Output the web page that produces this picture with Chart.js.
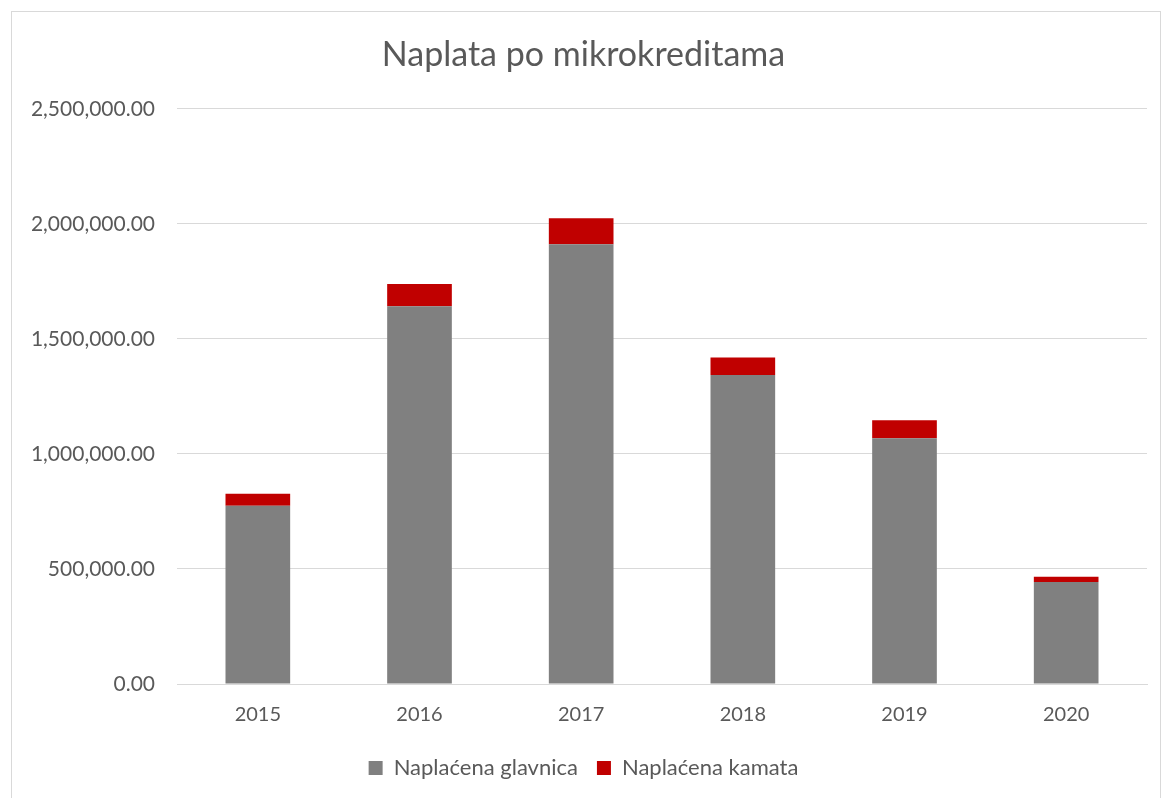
<!DOCTYPE html>
<html>
<head>
<meta charset="utf-8">
<script src="https://cdn.jsdelivr.net/npm/chart.js@4"></script>
<style>
  body { margin: 0; background: #fff; }
  #frame { position: absolute; left: 11px; top: 11px; width: 1148px; height: 800px; border: 1px solid #d9d9d9; }
  #wrap { position: absolute; left: 0; top: 0; width: 1163px; height: 798px; }
</style>
</head>
<body>
<div id="frame"></div>
<div id="wrap"><canvas id="chart" width="1163" height="798"></canvas></div>
<script>
// Naplata po mikrokreditima
const years = ['2015', '2016', '2017', '2018', '2019', '2020'];
const glavnica = [775000, 1642000, 1911000, 1343000, 1068000, 443000];
const kamata = [52000, 97000, 113000, 76000, 78000, 23000];

const textColor = '#595959';
const fontFamily = 'Lato, "Open Sans", sans-serif';

const ctx = document.getElementById('chart').getContext('2d');
const chart = new Chart(ctx, {
    type: 'bar',
    data: {
        labels: years,
        datasets: [{
            label: 'Naplaćena glavnica',
            data: glavnica,
            backgroundColor: '#808080',
            barPercentage: 0.4,
            categoryPercentage: 1
        }, {
            label: 'Naplaćena kamata',
            data: kamata,
            backgroundColor: '#c00000',
            barPercentage: 0.4,
            categoryPercentage: 1
        }]
    },
    options: {
        responsive: false,
        animation: false,
        layout: { padding: { left: 20, right: 16, top: 35, bottom: 9 } },
        plugins: {
            title: {
                display: true,
                text: 'Naplata po mikrokreditama',
                color: textColor,
                font: { family: fontFamily, size: 34, weight: 'normal' },
                padding: { top: 0, bottom: 33 }
            },
            legend: {
                position: 'bottom',
                labels: {
                    color: textColor,
                    font: { family: fontFamily, size: 22 },
                    boxWidth: 14,
                    boxHeight: 14,
                    padding: 19
                }
            },
            tooltip: { enabled: false }
        },
        scales: {
            x: {
                stacked: true,
                grid: { display: false },
                border: { color: '#d9d9d9' },
                ticks: { color: textColor, font: { family: fontFamily, size: 20 }, padding: 11 }
            },
            y: {
                stacked: true,
                min: 0,
                max: 2500000,
                grid: { color: '#d9d9d9', drawTicks: false },
                border: { display: false },
                afterFit: (axis) => { axis.width = 157; },
                ticks: {
                    stepSize: 500000,
                    color: textColor,
                    padding: 22,
                    font: { family: fontFamily, size: 21 },
                    callback: (v) => v.toLocaleString('en-US', { minimumFractionDigits: 2, maximumFractionDigits: 2 })
                }
            }
        }
    }
});
</script>
</body>
</html>
